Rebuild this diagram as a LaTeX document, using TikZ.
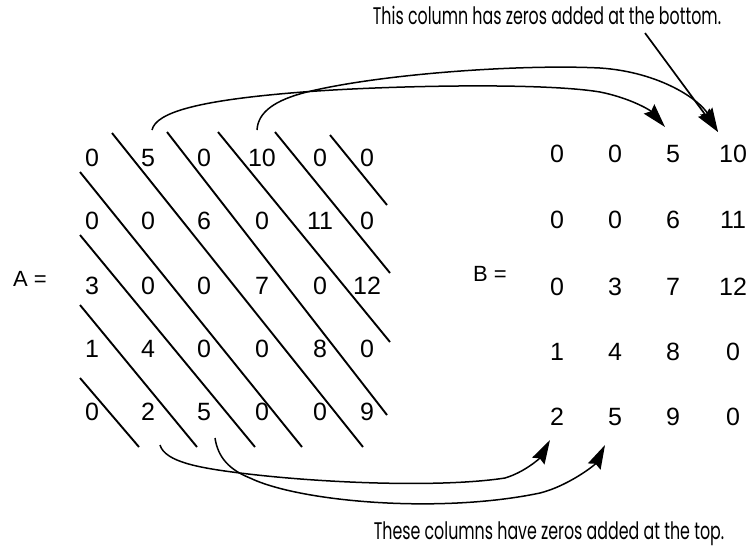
\documentclass[tikz,border=0pt]{standalone}
\usepackage{fontspec}
\setmainfont{Liberation Sans}
\newfontfamily\notefont[FakeStretch=0.66]{Poppins}
\usetikzlibrary{arrows.meta}
\begin{document}
\begin{tikzpicture}[x=1pt,y=-1pt,
  num/.style={inner sep=0pt,font=\fontsize{25}{25}\selectfont},
  lbl/.style={inner sep=0pt,font=\fontsize{22}{22}\selectfont},
  note/.style={inner sep=0pt,font=\notefont\fontsize{24}{24}\selectfont},
  diag/.style={line width=1.9pt},
  conn/.style={line width=1.5pt,-{Stealth[length=24pt,width=14pt,inset=3pt]}},
  pointer/.style={line width=1.7pt,-{Stealth[length=24pt,width=14pt,inset=3pt]}},
]
\useasboundingbox (0,0) rectangle (752,550);
\def\Ax{{92,148,204,262,320,367}}
\def\Ay{{158,221,286,349,412}}
\def\Bx{{557,615,673,733}}
\def\By{{154,220,287,352,417}}
% matrix A
\foreach \row [count=\i] in {{0,5,0,10,0,0},{0,0,6,0,11,0},{3,0,0,7,0,12},{1,4,0,0,8,0},{0,2,5,0,0,9}}{
  \foreach \v [count=\j] in \row {
    \pgfmathsetmacro\px{\Ax[\j-1]}
    \pgfmathsetmacro\py{\Ay[\i-1]}
    \node[num] (a\i\j) at (\px,\py) {\v};
  }
}
% matrix B
\foreach \row [count=\i] in {{0,0,5,10},{0,0,6,11},{0,3,7,12},{1,4,8,0},{2,5,9,0}}{
  \foreach \v [count=\j] in \row {
    \pgfmathsetmacro\px{\Bx[\j-1]}
    \pgfmathsetmacro\py{\By[\i-1]}
    \node[num] (b\i\j) at (\px,\py) {\v};
  }
}
\node[lbl] (la) at (30,279) {A =};
\node[lbl] (lb) at (490,274) {B =};
% diagonal separators
\draw[diag] (80,378) -- (139,447);
\draw[diag] (80,305) -- (197,447);
\draw[diag] (80,235) -- (255,447);
\draw[diag] (80,172) -- (302,447);
\draw[diag] (112,133) -- (363,447);
\draw[diag] (167,132) -- (387,415);
\draw[diag] (218,132) -- (390,342);
\draw[diag] (275,132) -- (390,273);
\draw[diag] (330,135) -- (387,205);
% annotations
\node[note] (ntop) at (547,15) {This column has zeros added at the bottom.};
\node[note] (nbot) at (549,534) {These columns have zeros added at the top.};
% coordinates
\coordinate (s5) at (152,130);
\coordinate (s10) at (257,130);
\coordinate (s2) at (160,445);
\coordinate (s5b) at (215,438);
\coordinate (t13) at (665,127);
\coordinate (t14) at (718,132);
\coordinate (t51) at (550,440);
\coordinate (t52) at (605,445);
\coordinate (p0) at (645,33);
% connectors
\draw[conn] (s5) .. controls (156,112) and (200,100) .. (303,92)
  .. controls (380,86) and (540,82) .. (600,92)
  .. controls (630,98) and (650,110) .. (t13);
\draw[conn] (s10) .. controls (258,112) and (275,100) .. (307,92)
  .. controls (380,74) and (520,64) .. (600,68)
  .. controls (660,72) and (700,100) .. (t14);
\draw[pointer] (p0) -- (t14);
\draw[conn] (s2) .. controls (165,462) and (200,468) .. (240,473)
  .. controls (320,483) and (440,488) .. (505,478)
  .. controls (525,472) and (540,458) .. (t51);
\draw[conn] (s5b) .. controls (218,458) and (230,470) .. (250,478)
  .. controls (300,502) and (440,514) .. (540,493)
  .. controls (568,486) and (595,465) .. (t52);
\end{tikzpicture}
\end{document}
